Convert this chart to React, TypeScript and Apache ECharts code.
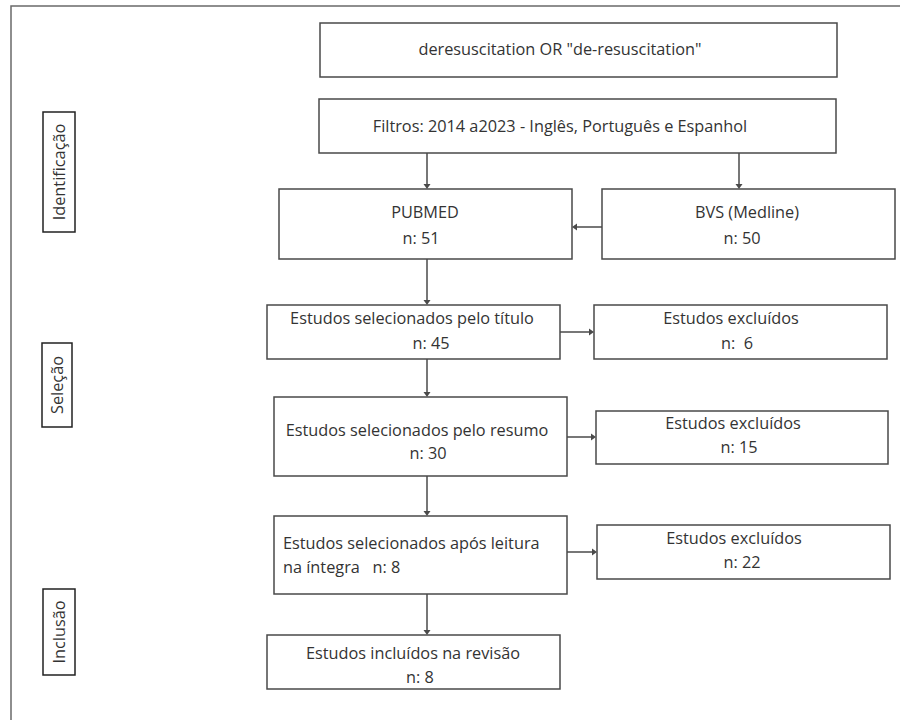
import React, { useEffect, useRef } from "react";
import * as echarts from "echarts";

// ---- content ----
const stageLabels = ["Identificação", "Seleção", "Inclusão"];
const searchQuery = 'deresuscitation OR "de-resuscitation"';
const filterText = "Filtros: 2014 a2023 - Inglês, Português e Espanhol";
const sourceNames = ["PUBMED", "BVS (Medline)"];
const sourceCounts = [51, 50];
const selectedLabels = [
  "Estudos selecionados pelo título",
  "Estudos selecionados pelo resumo",
  "Estudos selecionados após leitura",
];
const selectedCounts = [45, 30, 8];
const excludedLabel = "Estudos excluídos";
const excludedCounts = [6, 15, 22];
const includedLabel = "Estudos incluídos na revisão";
const includedCount = 8;

// ---- layout ----
const FONT = "'Open Sans', 'Noto Sans', sans-serif";
const TEXT = "#333333";
const LINE = "#4a4a4a";
const FS = 16.3;

function box(x: number, y: number, w: number, h: number) {
  return {
    type: "rect",
    shape: { x, y, width: w, height: h },
    style: { fill: "#fff", stroke: LINE, lineWidth: 1.5 },
  };
}
function txt(t: string, x: number, y: number, align: string = "center", rotation = 0) {
  return {
    type: "text",
    x,
    y,
    rotation,
    style: {
      text: t,
      fill: TEXT,
      font: `${FS}px ${FONT}`,
      align,
      verticalAlign: "middle",
    },
  };
}
function arrowDown(x: number, y1: number, y2: number) {
  return [
    { type: "line", shape: { x1: x, y1, x2: x, y2: y2 - 4 }, style: { stroke: LINE, lineWidth: 1.5 } },
    { type: "polygon", shape: { points: [[x - 3.5, y2 - 5], [x + 3.5, y2 - 5], [x, y2]] }, style: { fill: LINE } },
  ];
}
function arrowH(x1: number, x2: number, y: number) {
  const dir = x2 > x1 ? 1 : -1;
  return [
    { type: "line", shape: { x1, y1: y, x2: x2 - dir * 4, y2: y }, style: { stroke: LINE, lineWidth: 1.5 } },
    {
      type: "polygon",
      shape: { points: [[x2 - dir * 5, y - 3.5], [x2 - dir * 5, y + 3.5], [x2, y]] },
      style: { fill: LINE },
    },
  ];
}

export default function App() {
  const ref = useRef<HTMLDivElement>(null);
  useEffect(() => {
    if (!ref.current) return;
    const chart = echarts.init(ref.current, null, { renderer: "svg" });
    const els: any[] = [];
    // outer frame
    els.push({
      type: "rect",
      shape: { x: 11, y: 6, width: 1000, height: 800 },
      style: { fill: "#fff", stroke: "#6a6a6a", lineWidth: 1.5 },
    });
    // stage label boxes
    const stageBoxes = [
      [43, 112, 32, 120],
      [42, 343, 30, 84],
      [43, 589, 32, 86],
    ];
    stageBoxes.forEach((b, i) => {
      els.push({
        type: "rect",
        shape: { x: b[0], y: b[1], width: b[2], height: b[3] },
        style: { fill: "#fff", stroke: "#222", lineWidth: 1.5 },
      });
      els.push(txt(stageLabels[i], b[0] + b[2] / 2, b[1] + b[3] / 2, "center", Math.PI / 2));
    });
    // search + filter
    els.push(box(320, 23, 517, 54));
    els.push(txt(searchQuery, 560, 49));
    els.push(box(319, 99, 517, 54));
    els.push(txt(filterText, 560, 126));
    els.push(...arrowDown(427, 153, 189));
    els.push(...arrowDown(739, 153, 189));
    // sources
    els.push(box(279, 189, 293, 70));
    els.push(txt(sourceNames[0], 425, 212));
    els.push(txt(`n: ${sourceCounts[0]}`, 421, 238));
    els.push(box(602, 189, 293, 70));
    els.push(txt(sourceNames[1], 747, 212));
    els.push(txt(`n: ${sourceCounts[1]}`, 742, 238));
    els.push(...arrowH(602, 572, 227));
    els.push(...arrowDown(427, 259, 305));
    // title selection
    els.push(box(267, 305, 293, 54));
    els.push(txt(selectedLabels[0], 412, 318));
    els.push(txt(`n: ${selectedCounts[0]}`, 431, 343));
    els.push(...arrowH(560, 594, 332));
    els.push(box(594, 305, 293, 54));
    els.push(txt(excludedLabel, 731, 318));
    els.push(txt(`n:  ${excludedCounts[0]}`, 737, 343));
    els.push(...arrowDown(427, 359, 397));
    // abstract selection
    els.push(box(274, 397, 293, 79));
    els.push(txt(selectedLabels[1], 417, 430));
    els.push(txt(`n: ${selectedCounts[1]}`, 428, 453));
    els.push(...arrowH(567, 596, 437));
    els.push(box(596, 411, 292, 53));
    els.push(txt(excludedLabel, 733, 423));
    els.push(txt(`n: ${excludedCounts[1]}`, 739, 447));
    els.push(...arrowDown(427, 476, 516));
    // full read selection
    els.push(box(274, 516, 293, 78));
    els.push(txt(selectedLabels[2], 283, 543, "left"));
    els.push(txt(`na íntegra   n: ${selectedCounts[2]}`, 283, 567, "left"));
    els.push(...arrowH(567, 597, 552));
    els.push(box(597, 525, 293, 54));
    els.push(txt(excludedLabel, 734, 538));
    els.push(txt(`n: ${excludedCounts[2]}`, 742, 562));
    els.push(...arrowDown(427, 594, 635));
    // included
    els.push(box(267, 635, 293, 54));
    els.push(txt(includedLabel, 413, 653));
    els.push(txt(`n: ${includedCount}`, 420, 677));

    chart.setOption({ animation: false, graphic: { elements: els } });
    return () => chart.dispose();
  }, []);
  return <div ref={ref} style={{ width: 900, height: 720, position: "absolute", left: 0, top: 0 }} />;
}
